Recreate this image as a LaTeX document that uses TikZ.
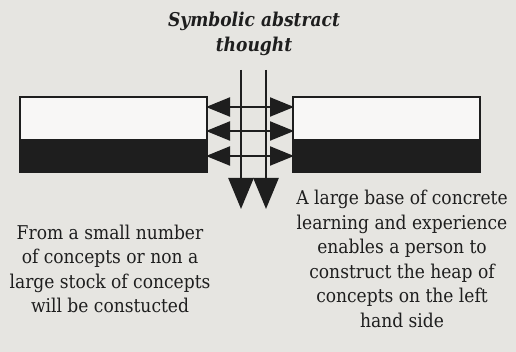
\documentclass[tikz,border=0pt]{standalone}
\usepackage{fontspec}
\setmainfont{DejaVu Serif Condensed}
\usetikzlibrary{arrows.meta}
\definecolor{paper}{HTML}{E6E5E1}
\definecolor{ink}{HTML}{1E1E1E}
\tikzset{
  bar/.style={draw=ink, line width=2.5pt, minimum width=187pt, inner sep=0pt, outer sep=0pt},
  whitebar/.style={bar, fill=white!70!paper, minimum height=43pt},
  blackbar/.style={bar, fill=ink, minimum height=32pt},
  varrow/.style={draw=ink, line width=2.5pt, -{Triangle[length=31pt,width=25pt]}},
  harrow/.style={draw=ink, line width=2pt, {Triangle[length=24pt,width=19pt]}-{Triangle[length=24pt,width=19pt]}, shorten <=-1pt, shorten >=-1pt},
  txt/.style={text=ink, font=\fontsize{19}{24.5}\selectfont, align=center, inner sep=0pt},
  title/.style={txt, font=\fontsize{19}{25}\selectfont\bfseries\itshape},
}
\begin{document}
\begin{tikzpicture}[x=1pt,y=1pt]
\fill[paper] (0,0) rectangle (516,352);
\useasboundingbox (0,0) rectangle (516,352);
% boxes
\node[whitebar] (lw) at (113.5,233.5) {};
\node[blackbar, anchor=north] (lb) at (lw.south) {};
\node[whitebar] (rw) at (386.5,233.5) {};
\node[blackbar, anchor=north] (rb) at (rw.south) {};
% vertical arrows
\coordinate (t1) at (241,282);
\coordinate (b1) at (241,143);
\coordinate (t2) at (266,282);
\coordinate (b2) at (266,143);
\draw[varrow] (t1) -- (b1);
\draw[varrow] (t2) -- (b2);
% horizontal arrows
\draw[harrow] (lw.east |- 0,245) -- (rw.west |- 0,245);
\draw[harrow] (lw.east |- 0,221) -- (rw.west |- 0,221);
\draw[harrow] (lb.east |- 0,196) -- (rb.west |- 0,196);
% texts
\node[title] (ti) at (254,318) {Symbolic abstract\\thought};
\node[txt] (lt) at (110,83) {From a small number\\of concepts or non a\\large stock of concepts\\will be constucted};
\node[txt] (rt) at (402,93) {A large base of concrete\\learning and experience\\enables a person to\\construct the heap of\\concepts on the left\\hand side};
\end{tikzpicture}
\end{document}
